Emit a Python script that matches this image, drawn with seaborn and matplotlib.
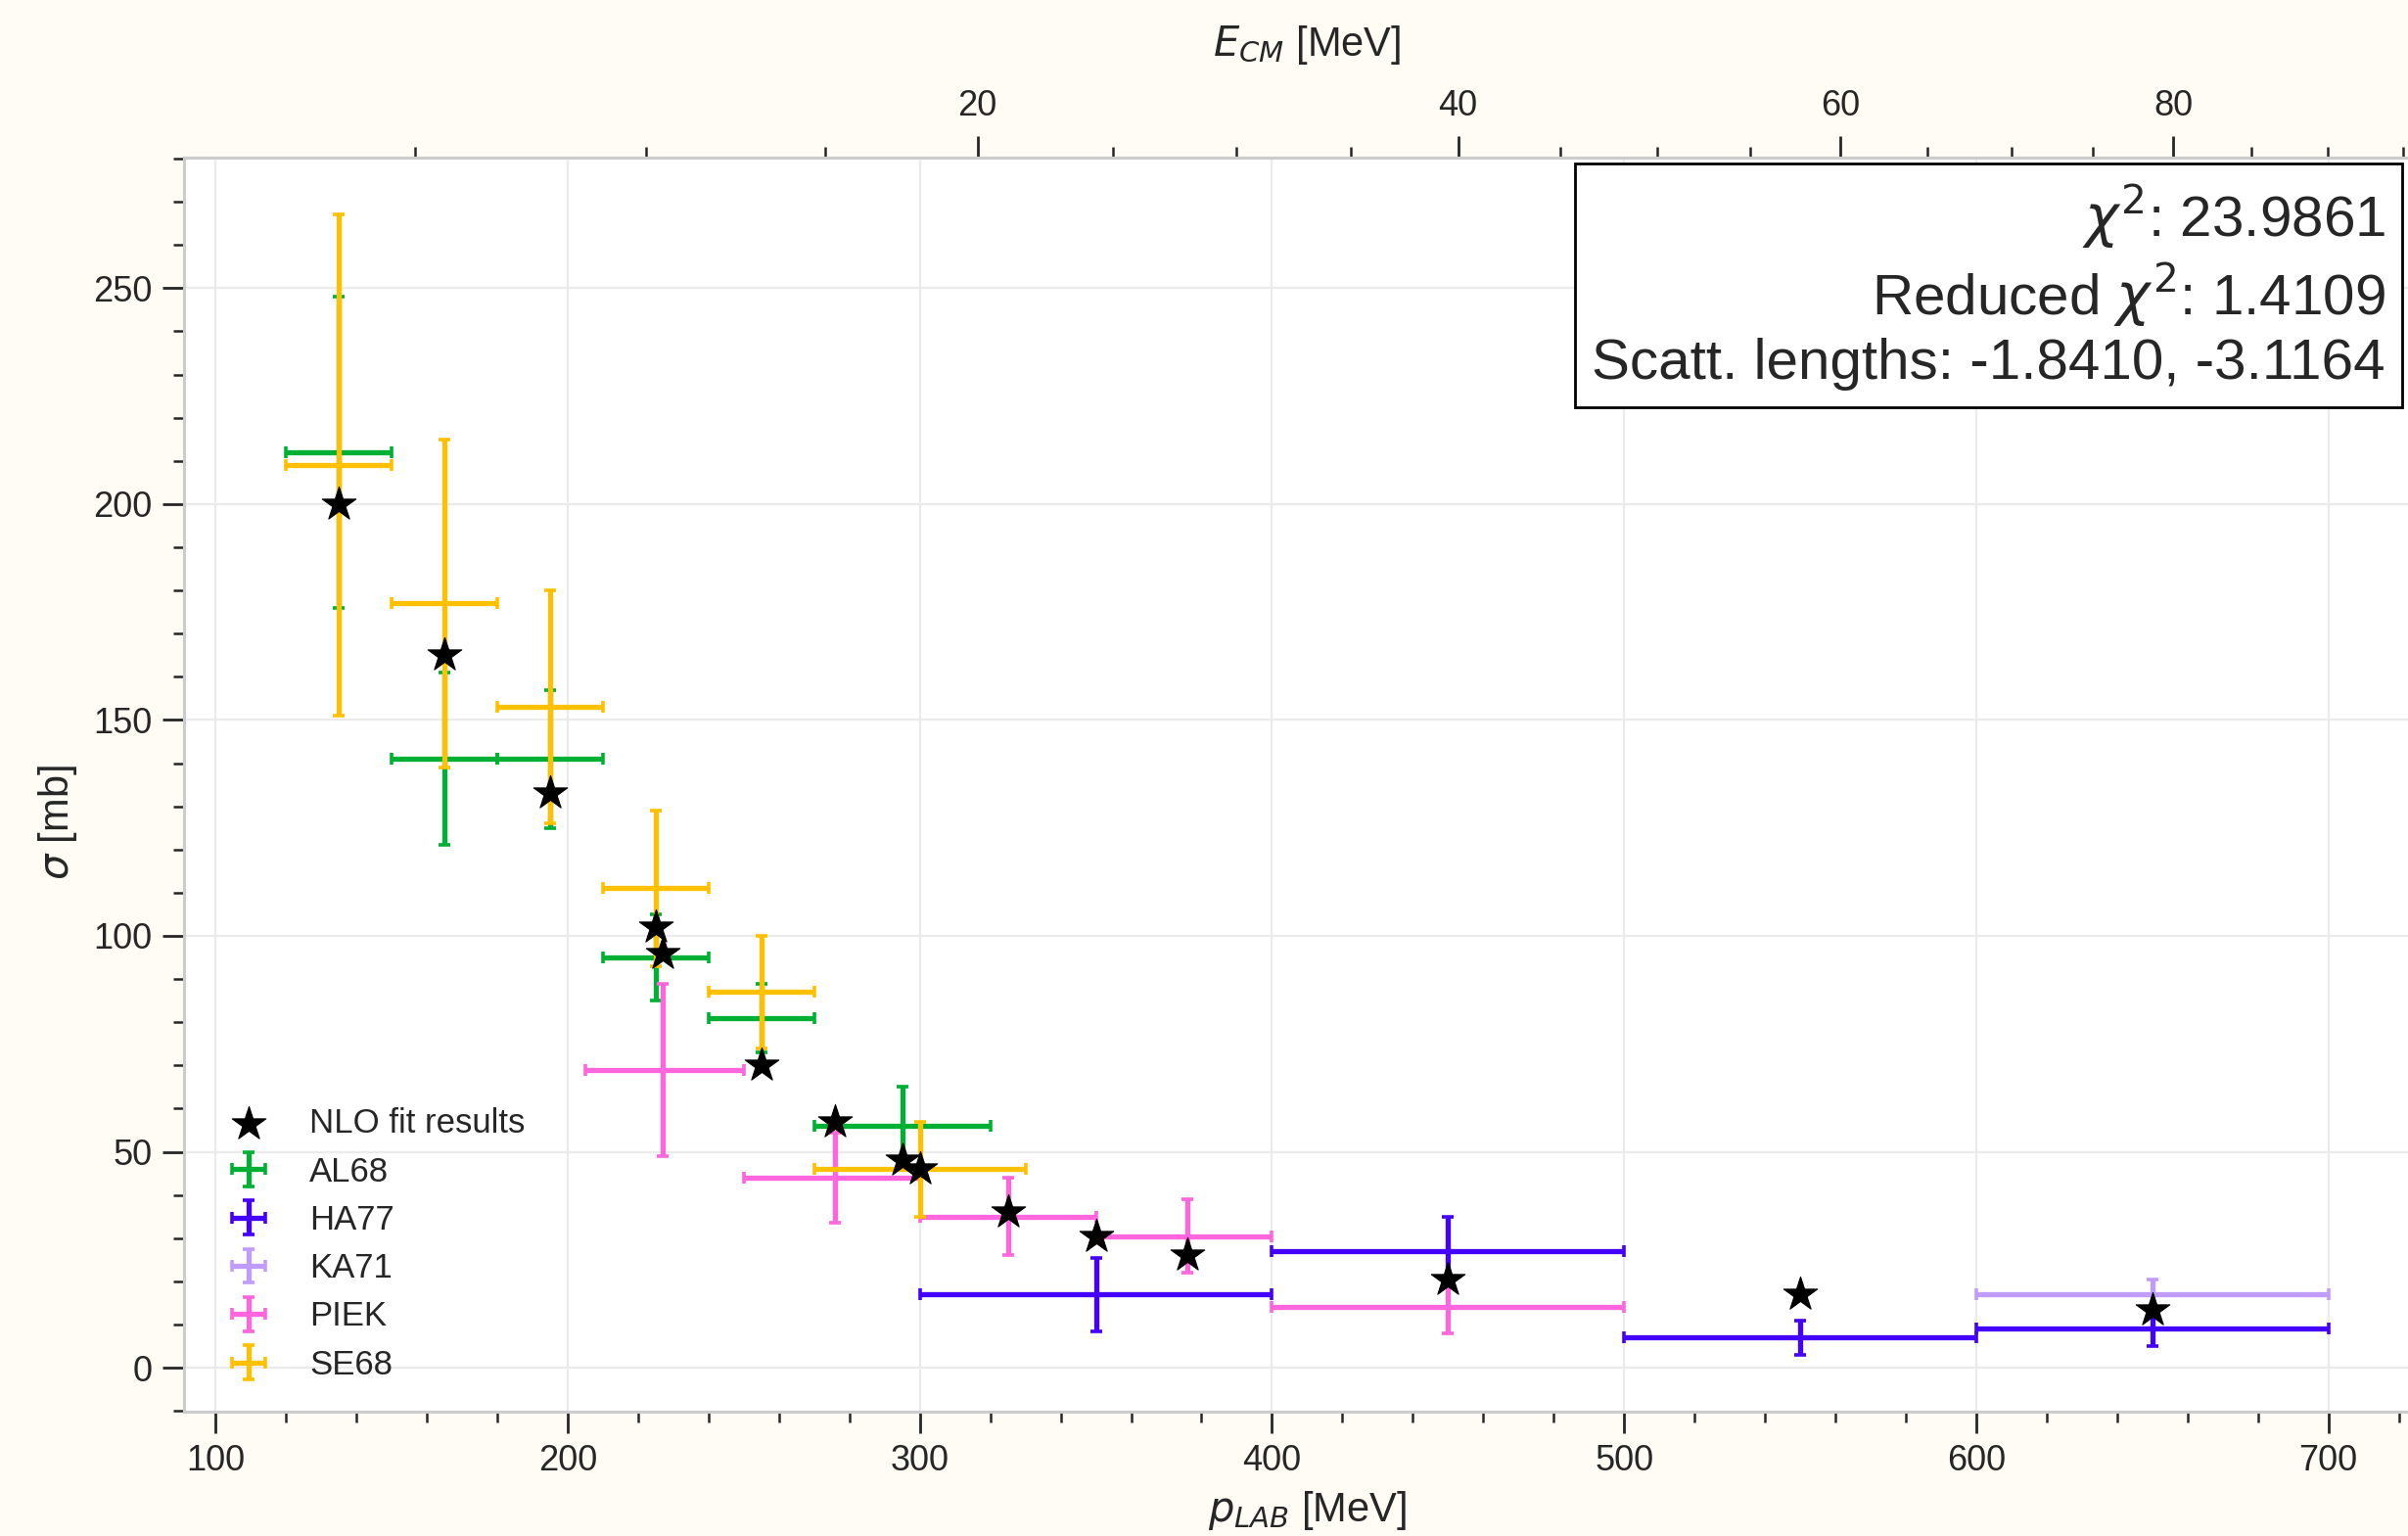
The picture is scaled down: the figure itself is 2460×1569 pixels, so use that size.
import numpy as np
import matplotlib
matplotlib.use("Agg")
import matplotlib.pyplot as plt
import seaborn as sns
from matplotlib.ticker import MultipleLocator, FixedLocator

# Lambda-p total cross section data (p_LAB in MeV, sigma in mb)
al68_p = [135, 165, 195, 225, 255, 295]
al68_dp_lo = [15, 15, 15, 15, 15, 25]
al68_dp_hi = [15, 15, 15, 15, 15, 25]
al68_sig = [212, 141, 141, 95, 81, 56]
al68_dsig = [36, 20, 16, 10, 8, 9]

ha77_p = [350, 450, 550, 650]
ha77_dp_lo = [50, 50, 50, 50]
ha77_dp_hi = [50, 50, 50, 50]
ha77_sig = [17, 27, 7, 9]
ha77_dsig = [8.5, 8, 4, 4]

ka71_p = [650]
ka71_dp_lo = [50]
ka71_dp_hi = [50]
ka71_sig = [17]
ka71_dsig = [3.4]

piek_p = [227, 276, 325, 376, 450]
piek_dp_lo = [22, 26, 25, 26, 50]
piek_dp_hi = [23, 24, 25, 24, 50]
piek_sig = [69, 44, 35, 30.5, 14]
piek_dsig = [20, 10.5, 9, 8.5, 6]

se68_p = [135, 165, 195, 225, 255, 300]
se68_dp_lo = [15, 15, 15, 15, 15, 30]
se68_dp_hi = [15, 15, 15, 15, 15, 30]
se68_sig = [209, 177, 153, 111, 87, 46]
se68_dsig = [58, 38, 27, 18, 13, 11]

# NLO fit
nlo_p = [135, 165, 195, 225, 227, 255, 276, 295, 300, 325, 350, 376, 450, 550, 650]
nlo_sig = [200, 165, 133, 102, 96, 70, 57, 48, 46, 36, 30.5, 26, 20.5, 17, 13.5]

fit_chi2 = 23.9861
fit_red_chi2 = 1.4109
scatt_lengths = [-1.8410, -3.1164]

ecm_ticks = [20, 40, 60, 80]

M_LAM = 1115.683
M_P = 938.272


def plab_to_ecm(p):
    p = np.asarray(p, dtype=float)
    e_lam = np.sqrt(p**2 + M_LAM**2)
    return np.sqrt(M_LAM**2 + M_P**2 + 2 * M_P * e_lam) - M_LAM - M_P


def ecm_to_plab(e):
    e = np.asarray(e, dtype=float)
    s = (np.maximum(e, 0) + M_LAM + M_P) ** 2
    e_lam = (s - M_LAM**2 - M_P**2) / (2 * M_P)
    return np.sqrt(np.maximum(e_lam**2 - M_LAM**2, 0))


sns.set_theme(style="whitegrid", rc={
    "axes.edgecolor": ".8",
    "axes.linewidth": 1.1,
    "grid.color": "#ebebeb",
    "grid.linewidth": 0.8,
    "xtick.bottom": True,
    "ytick.left": True,
    "xtick.color": ".15",
    "ytick.color": ".15",
    "figure.facecolor": "#fffcf5",
    "axes.facecolor": "white",
})
plt.rcParams["font.family"] = ["Liberation Sans", "DejaVu Sans"]

fig = plt.figure(figsize=(12.3, 7.845), dpi=200)
ax = fig.add_axes([0.0764, 0.0809, 0.9329, 0.8164])

datasets = [
    ("AL68", al68_p, al68_dp_lo, al68_dp_hi, al68_sig, al68_dsig, "#00b034"),
    ("HA77", ha77_p, ha77_dp_lo, ha77_dp_hi, ha77_sig, ha77_dsig, "#4400ff"),
    ("KA71", ka71_p, ka71_dp_lo, ka71_dp_hi, ka71_sig, ka71_dsig, "#c09cff"),
    ("PIEK", piek_p, piek_dp_lo, piek_dp_hi, piek_sig, piek_dsig, "#ff66dd"),
    ("SE68", se68_p, se68_dp_lo, se68_dp_hi, se68_sig, se68_dsig, "#ffc000"),
]
for name, p, lo, hi, sig, dsig, col in datasets:
    ax.errorbar(p, sig, xerr=[lo, hi], yerr=dsig, fmt="none", ecolor=col,
                elinewidth=1.9, capsize=2.3, capthick=1.3, label=name)

sns.scatterplot(x=nlo_p, y=nlo_sig, marker="*", s=170, color="black",
                edgecolor="black", linewidth=0.4, zorder=10,
                label="NLO fit results", ax=ax)

ax.xaxis.set_major_locator(MultipleLocator(100))
ax.xaxis.set_minor_locator(MultipleLocator(20))
ax.yaxis.set_major_locator(MultipleLocator(50))
ax.yaxis.set_minor_locator(MultipleLocator(10))
ax.tick_params(which="major", length=7.8, width=1.0, labelsize=13, pad=4)
ax.tick_params(which="minor", length=4, width=0.9)
ax.grid(which="minor", visible=False)

ax.set_xlabel("$p_{LAB}$ [MeV]", fontsize=15)
ax.set_ylabel("$\\sigma$ [mb]", fontsize=15, labelpad=5, y=0.47)

secax = ax.secondary_xaxis("top", functions=(plab_to_ecm, ecm_to_plab))
secax.xaxis.set_major_locator(FixedLocator(ecm_ticks))
secax.xaxis.set_minor_locator(MultipleLocator(5))
secax.tick_params(which="major", length=7.8, width=1.0, labelsize=13, pad=5)
secax.tick_params(which="minor", length=4, width=0.9)
secax.spines["top"].set_color(".8")
secax.set_xlabel("$E_{CM}$ [MeV]", fontsize=15, labelpad=12)

txt = (f"$\\chi^2$: {fit_chi2:.4f}\n"
       f"Reduced $\\chi^2$: {fit_red_chi2:.4f}\n"
       f"Scatt. lengths: {scatt_lengths[0]:.4f}, {scatt_lengths[1]:.4f}")
ax.text(0.98, 0.98, txt, transform=ax.transAxes, ha="right", va="top",
        fontsize=21, zorder=20,
        bbox=dict(boxstyle="square", facecolor="white", edgecolor="black",
                  linewidth=1.0))

order = ["NLO fit results", "AL68", "HA77", "KA71", "PIEK", "SE68"]
handles, labels = ax.get_legend_handles_labels()
hmap = dict(zip(labels, handles))
ax.legend([hmap[k] for k in order], order, loc="lower left", frameon=False,
          fontsize=12.5, labelspacing=0.47)

fig.savefig("out.png", dpi=200, facecolor=fig.get_facecolor())
